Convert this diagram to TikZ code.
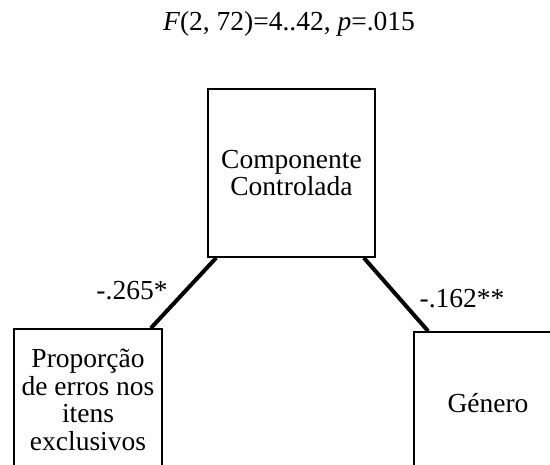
\documentclass[tikz,border=0pt]{standalone}
\usepackage{fontspec}
\setmainfont{Liberation Serif}
\usetikzlibrary{positioning,calc}

\begin{document}
\begin{tikzpicture}[x=1pt,y=-1pt,
  txt/.style={font=\fontsize{27.5}{27.5}\selectfont},
  box/.style={txt,draw,line width=1.7pt,minimum width=148pt,minimum height=142pt,align=center,inner sep=0pt},
  link/.style={line width=4pt}]
\clip (0,0) rectangle (550,465);

% Title
\node[txt] (stat) at (289,24) {\textit{F}(2, 72)=4..42, \textit{p}=.015};

% Boxes
\node[box,minimum width=167pt,minimum height=168pt] (comp) at (291.5,173) {Componente\\Controlada};
\node[box] (prop) at (88,400) {Proporção\\de erros nos\\itens\\exclusivos};
\node[box] (gen) at (488,403) {Género};

% Paths
\draw[link] ($(comp.south west)+(9,0)$) -- ($(prop.north east)+(-12,0)$);
\draw[link] ($(comp.south east)+(-12,0)$) -- ($(gen.north west)+(15,0)$);

% Coefficients
\node[txt] (c1) at (132,291) {-.265*};
\node[txt] (c2) at (462,299) {-.162**};
\end{tikzpicture}
\end{document}
